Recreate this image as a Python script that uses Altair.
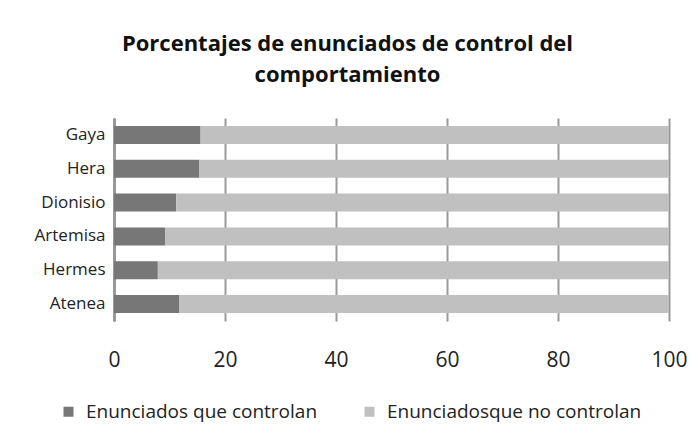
import altair as alt
import pandas as pd

personas = ["Gaya", "Hera", "Dionisio", "Artemisa", "Hermes", "Atenea"]
controlan = [15.6, 15.4, 11.2, 9.2, 7.9, 11.8]
no_controlan = [84.4, 84.6, 88.8, 90.8, 92.1, 88.2]
series = ["Enunciados que controlan", "Enunciadosque no controlan"]
x_ticks = [0, 20, 40, 60, 80, 100]

rows = []
for p, a, b in zip(personas, controlan, no_controlan):
    rows.append({"persona": p, "serie": series[0], "valor": a, "orden": 0})
    rows.append({"persona": p, "serie": series[1], "valor": b, "orden": 1})
df = pd.DataFrame(rows)

FONT = "Open Sans"

chart = alt.Chart(df).mark_bar().encode(
    y=alt.Y("persona:N", sort=personas, title=None,
            scale=alt.Scale(paddingInner=0.47, paddingOuter=0.235),
            axis=alt.Axis(labelFontSize=17, labelFont=FONT, labelColor="#222222",
                          ticks=False, domain=True, domainColor="#999999", domainWidth=3,
                          labelPadding=9, grid=False)),
    x=alt.X("valor:Q", stack="zero", title=None,
            scale=alt.Scale(domain=[0, 100], nice=False),
            axis=alt.Axis(values=x_ticks, labelFontSize=21, labelFont=FONT,
                          labelColor="#222222", ticks=False, domain=False,
                          labelFlush=False, labelOverlap=False, labelBound=False,
                          grid=True, gridColor="#999999", gridWidth=2,
                          labelPadding=28)),
    color=alt.Color("serie:N",
                    scale=alt.Scale(domain=series, range=["#777777", "#c0c0c0"]),
                    legend=alt.Legend(orient="none", legendX=-55, legendY=284,
                                      direction="horizontal", title=None,
                                      symbolType="square", symbolSize=100,
                                      symbolStrokeWidth=0, labelLimit=0,
                                      labelFontSize=19, labelFont=FONT,
                                      labelColor="#222222", columnPadding=42,
                                      labelOffset=8)),
    order=alt.Order("orden:Q"),
).properties(
    width=555, height=203,
    padding={"left": 106, "top": 110, "right": 19, "bottom": 102},
    autosize=alt.AutoSizeParams(type="none"),
    title=alt.TitleParams(
        text=["Porcentajes de enunciados de control del", "comportamiento"],
        fontSize=22, font=FONT, fontWeight="bold", color="#111111",
        anchor="middle", dx=-44, offset=31, lineHeight=31,
    ),
).configure_view(stroke=None)

chart.save("out.html", embed_options={"renderer": "svg", "actions": False})
